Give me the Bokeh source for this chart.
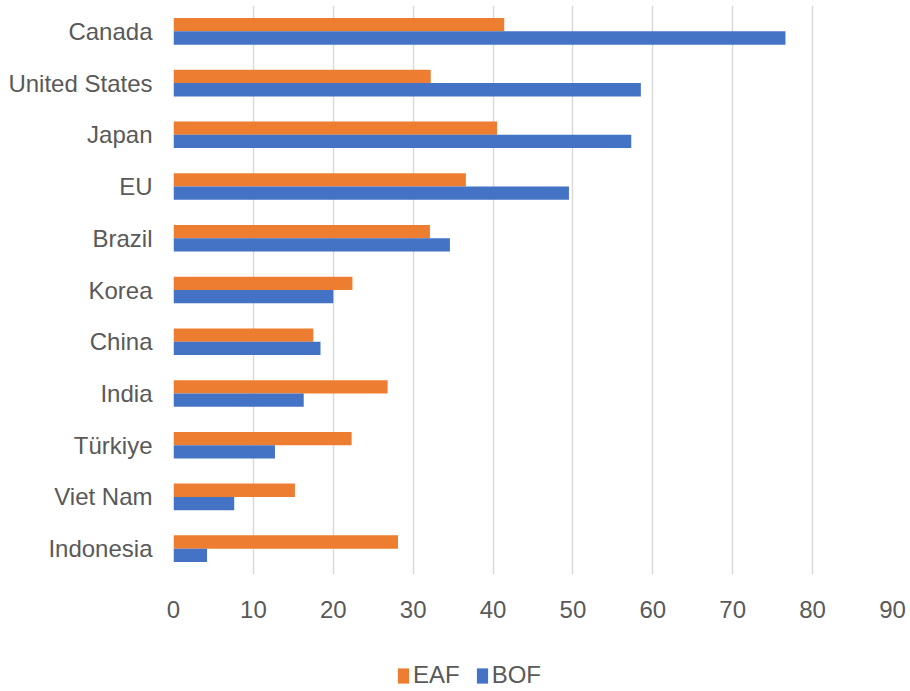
from bokeh.plotting import figure
from bokeh.layouts import column
from bokeh.models import FactorRange, Range1d, Legend, LegendItem, ColumnDataSource, FixedTicker
from bokeh.transform import dodge
from bokeh.embed import file_html
from bokeh.resources import INLINE

# Steel production emission intensity by route (EAF vs BOF)
countries = ["Canada", "United States", "Japan", "EU", "Brazil", "Korea",
             "China", "India", "Türkiye", "Viet Nam", "Indonesia"]
eaf = [41.4, 32.2, 40.5, 36.6, 32.1, 22.4, 17.5, 26.8, 22.3, 15.2, 28.1]
bof = [76.6, 58.5, 57.3, 49.5, 34.6, 20.0, 18.4, 16.3, 12.7, 7.6, 4.2]
x_ticks = [0, 10, 20, 30, 40, 50, 60, 70, 80, 90]
series_names = ["EAF", "BOF"]

EAF_COLOR = "#ED7D31"
BOF_COLOR = "#4472C4"
TEXT_COLOR = "#595959"
FONT = "Liberation Sans"
FONT_SIZE = "24px"

source = ColumnDataSource(data=dict(country=countries, eaf=eaf, bof=bof))

p = figure(
    width=910, height=640,
    y_range=FactorRange(*reversed(countries), range_padding=0),
    x_range=Range1d(0, 90),
    output_backend="svg", toolbar_location=None,
    min_border_left=173, min_border_right=18,
    min_border_top=5, min_border_bottom=66,
)
p.outline_line_color = None

bar_h = 0.257
p.hbar(y=dodge("country", bar_h / 2, range=p.y_range), right="eaf", left=0,
       height=bar_h, source=source, fill_color=EAF_COLOR, line_color=None)
p.hbar(y=dodge("country", -bar_h / 2, range=p.y_range), right="bof", left=0,
       height=bar_h, source=source, fill_color=BOF_COLOR, line_color=None)

# grid
p.ygrid.grid_line_color = None
p.xgrid.grid_line_color = "#d9d9d9"
p.xgrid.grid_line_width = 1.5
p.xgrid.ticker = FixedTicker(ticks=x_ticks)

# axes
p.xaxis.ticker = FixedTicker(ticks=x_ticks)
for ax in (p.xaxis[0], p.yaxis[0]):
    ax.axis_line_color = None
    ax.major_tick_line_color = None
    ax.minor_tick_line_color = None
    ax.major_label_text_font = FONT
    ax.major_label_text_font_size = FONT_SIZE
    ax.major_label_text_color = TEXT_COLOR
p.yaxis.major_label_standoff = 15
p.xaxis.major_label_standoff = 20

# legend strip under the chart (its frame lines up with the chart's frame)
leg = figure(
    width=910, height=51, x_range=Range1d(0, 1), y_range=Range1d(0, 1),
    x_axis_type=None, y_axis_type=None,
    output_backend="svg", toolbar_location=None, min_border=0,
)
leg.outline_line_color = None
leg.grid.visible = False
# swatch renderers sit outside the visible range; only their legend glyphs show
swatch = ColumnDataSource(data=dict(y=[-5], right=[-5]))
r_eaf = leg.hbar(y="y", right="right", left=-6, height=0.1, source=swatch,
                 fill_color=EAF_COLOR, line_color=None)
r_bof = leg.hbar(y="y", right="right", left=-6, height=0.1, source=swatch,
                 fill_color=BOF_COLOR, line_color=None)

legend = Legend(
    items=[LegendItem(label=series_names[0], renderers=[r_eaf]),
           LegendItem(label=series_names[1], renderers=[r_bof])],
    orientation="horizontal",
    location=(223, 2),
    glyph_width=14, glyph_height=19,
    label_standoff=3, spacing=15,
    padding=0, margin=0,
    border_line_color=None, background_fill_alpha=0,
    label_text_font=FONT, label_text_font_size=FONT_SIZE,
    label_text_color=TEXT_COLOR,
)
leg.add_layout(legend)

layout = column(p, leg, spacing=0)
open("out.html", "w").write(file_html(layout, INLINE))
